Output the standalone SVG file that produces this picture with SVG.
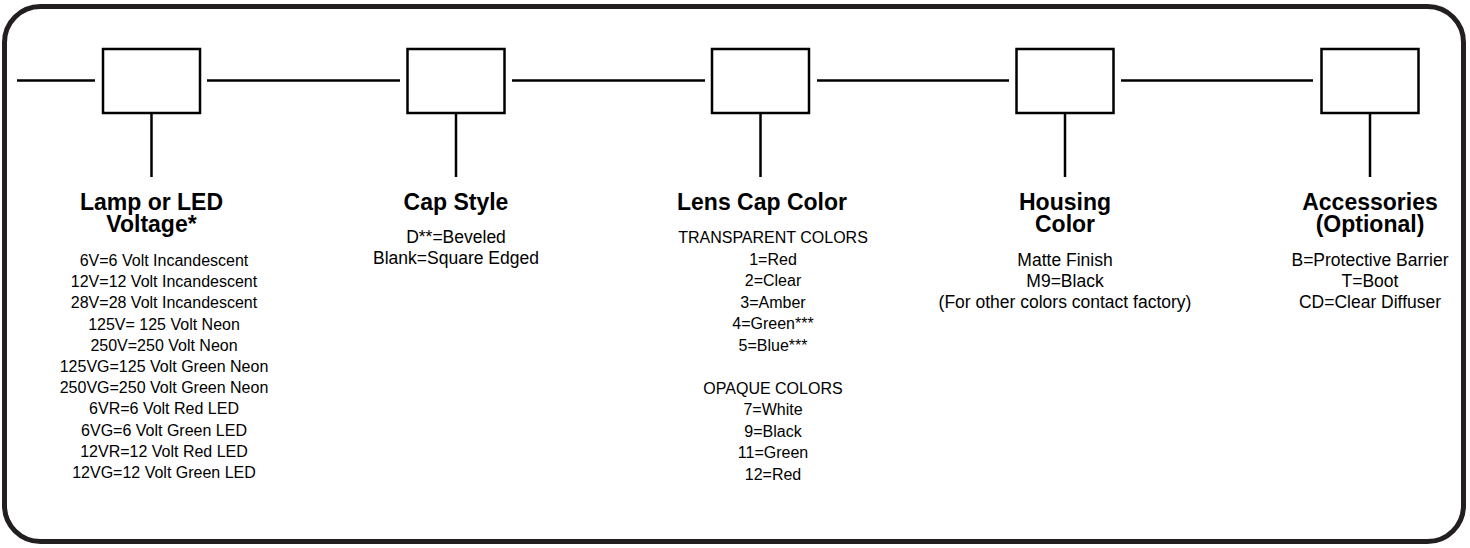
<svg xmlns="http://www.w3.org/2000/svg" width="1470" height="548" viewBox="0 0 1470 548">
<style>
.frame{fill:none;stroke:#231f20;stroke-width:5}
.box{fill:#fff;stroke:#000;stroke-width:2.5}
.ln{stroke:#000;stroke-width:2.5;fill:none}
.t{font-family:"Liberation Sans",Arial,sans-serif;font-weight:bold;font-size:23px;text-anchor:middle;fill:#000}
.b{font-family:"Liberation Sans",Arial,sans-serif;font-size:17.5px;text-anchor:middle;fill:#000}
.s{font-family:"Liberation Sans",Arial,sans-serif;font-size:16px;text-anchor:middle;fill:#000}
</style>
<rect width="1470" height="548" fill="#fff"/>
<rect class="frame" x="4.5" y="6.5" width="1459" height="535" rx="36" ry="36"/>
<g id="connectors">
<line class="ln" x1="17" y1="80.5" x2="95" y2="80.5"/>
<line class="ln" x1="207" y1="80.5" x2="400" y2="80.5"/>
<line class="ln" x1="512" y1="80.5" x2="705" y2="80.5"/>
<line class="ln" x1="817" y1="80.5" x2="1009" y2="80.5"/>
<line class="ln" x1="1121" y1="80.5" x2="1313" y2="80.5"/>
<line class="ln" x1="151.5" y1="113" x2="151.5" y2="177"/>
<line class="ln" x1="456" y1="113" x2="456" y2="177"/>
<line class="ln" x1="760.5" y1="113" x2="760.5" y2="177"/>
<line class="ln" x1="1065" y1="113" x2="1065" y2="177"/>
<line class="ln" x1="1370" y1="113" x2="1370" y2="177"/>
</g>
<g id="lamp">
<rect class="box" x="103" y="49" width="97" height="64"/>
<text class="t" x="151.5" y="210">Lamp or LED</text>
<text class="t" x="151.5" y="232">Voltage*</text>
<text class="s" x="164" y="266">6V=6 Volt Incandescent</text>
<text class="s" x="164" y="287.2">12V=12 Volt Incandescent</text>
<text class="s" x="164" y="308.4">28V=28 Volt Incandescent</text>
<text class="s" x="164" y="329.6">125V= 125 Volt Neon</text>
<text class="s" x="164" y="350.8">250V=250 Volt Neon</text>
<text class="s" x="164" y="372">125VG=125 Volt Green Neon</text>
<text class="s" x="164" y="393.2">250VG=250 Volt Green Neon</text>
<text class="s" x="164" y="414.4">6VR=6 Volt Red LED</text>
<text class="s" x="164" y="435.6">6VG=6 Volt Green LED</text>
<text class="s" x="164" y="456.8">12VR=12 Volt Red LED</text>
<text class="s" x="164" y="478">12VG=12 Volt Green LED</text>
</g>
<g id="capstyle">
<rect class="box" x="407.5" y="49" width="97" height="64"/>
<text class="t" x="456" y="210">Cap Style</text>
<text class="b" x="456" y="243">D**=Beveled</text>
<text class="b" x="456" y="264">Blank=Square Edged</text>
</g>
<g id="lenscap">
<rect class="box" x="712" y="49" width="97" height="64"/>
<text class="t" x="762" y="210">Lens Cap Color</text>
<text class="s" x="773" y="243">TRANSPARENT COLORS</text>
<text class="s" x="773" y="264.5">1=Red</text>
<text class="s" x="773" y="286">2=Clear</text>
<text class="s" x="773" y="307.5">3=Amber</text>
<text class="s" x="773" y="329">4=Green***</text>
<text class="s" x="773" y="350.5">5=Blue***</text>
<text class="s" x="773" y="393.5">OPAQUE COLORS</text>
<text class="s" x="773" y="415">7=White</text>
<text class="s" x="773" y="436.5">9=Black</text>
<text class="s" x="773" y="458">11=Green</text>
<text class="s" x="773" y="479.5">12=Red</text>
</g>
<g id="housing">
<rect class="box" x="1016.5" y="49" width="97" height="64"/>
<text class="t" x="1065" y="210">Housing</text>
<text class="t" x="1065" y="232">Color</text>
<text class="b" x="1065" y="266">Matte Finish</text>
<text class="b" x="1065" y="287">M9=Black</text>
<text class="b" x="1065" y="308">(For other colors contact factory)</text>
</g>
<g id="accessories">
<rect class="box" x="1321.5" y="49" width="97" height="64"/>
<text class="t" x="1370" y="210">Accessories</text>
<text class="t" x="1370" y="232">(Optional)</text>
<text class="b" x="1370" y="266">B=Protective Barrier</text>
<text class="b" x="1370" y="287">T=Boot</text>
<text class="b" x="1370" y="308">CD=Clear Diffuser</text>
</g>
</svg>
